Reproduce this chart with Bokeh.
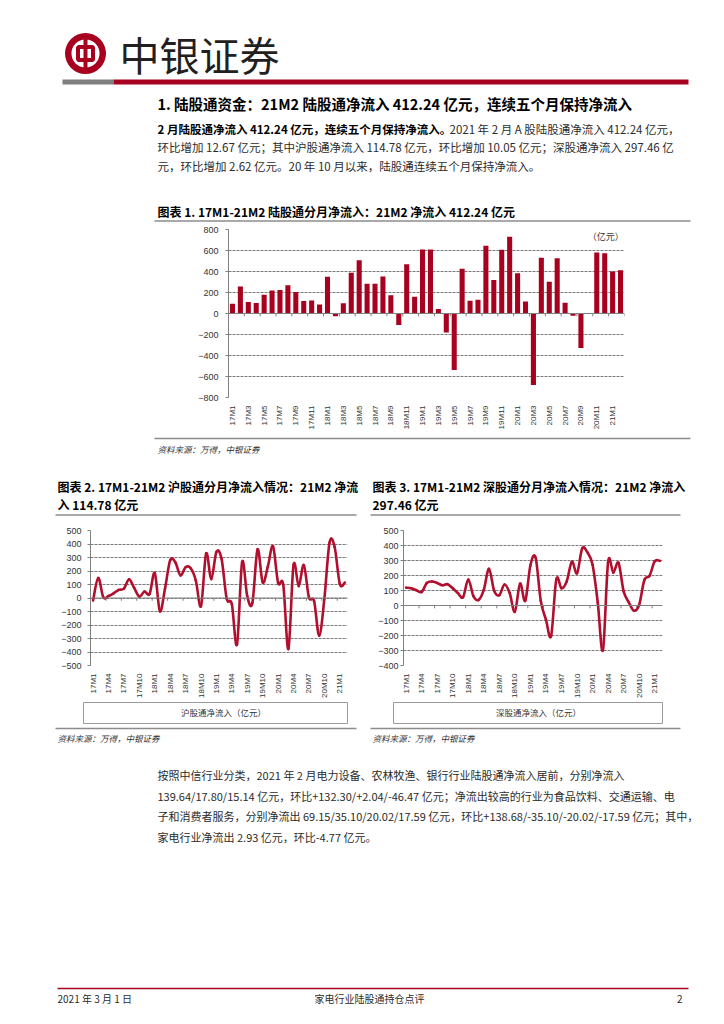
import math
from bokeh.plotting import figure
from bokeh.models import Range1d, FixedTicker, Span, Legend, LegendItem
from bokeh.layouts import column, row
from bokeh.core.properties import value
from bokeh.embed import file_html
from bokeh.resources import INLINE

# ---------------- data ----------------
months = ["17M1", "17M2", "17M3", "17M4", "17M5", "17M6", "17M7", "17M8", "17M9", "17M10", "17M11", "17M12",
          "18M1", "18M2", "18M3", "18M4", "18M5", "18M6", "18M7", "18M8", "18M9", "18M10", "18M11", "18M12",
          "19M1", "19M2", "19M3", "19M4", "19M5", "19M6", "19M7", "19M8", "19M9", "19M10", "19M11", "19M12",
          "20M1", "20M2", "20M3", "20M4", "20M5", "20M6", "20M7", "20M8", "20M9", "20M10", "20M11", "20M12",
          "21M1", "21M2"]

total_flow = [94, 257, 109, 100, 178, 220, 224, 269, 205, 118, 124, 85,
              350, -27, 97, 387, 508, 284, 284, 353, 175, -109, 468, 160,
              610, 610, 42, -181, -538, 426, 121, 130, 646, 320, 607, 731,
              384, 115, -680, 532, 302, 526, 103, -21, -329, 2, 580, 574,
              399.57, 412.24]

sh_flow = [-19, 148, 5, 15, 35, 60, 70, 138, 75, 10, 48, 30,
           185, -98, 70, 280, 265, 168, 228, 220, 128, -60, 330, 140,
           342, 290, -5, -46, -344, 267, 12, -35, 360, 116, 232, 383,
           112, 98, -377, 245, 88, 244, 5, -23, -279, -5, 410, 378,
           104.73, 114.78]

sz_flow = [119, 115, 102, 90, 150, 160, 150, 135, 142, 115, 83, 56,
           173, 62, 37, 104, 244, 98, 69, 140, 83, -42, 146, 31,
           268, 320, 31, -94, -202, 173, 115, 160, 292, 215, 381, 354,
           272, 20, -298, 290, 219, 285, 94, 21, -35, 5, 170, 198,
           294.84, 297.46]

bar_ticks = list(range(0, 50, 2))
line_ticks = list(range(0, 50, 3))

# ---------------- styles ----------------
CJK = "Noto Sans CJK SC"
LAT = "Liberation Sans"
RED = "#A8001F"
LINE_RED = "#B0102E"
GRID = "#7a7a7a"
RULE = "#8c8c8c"
TXT = "#2b2b2b"


def canvas(x0, y0, w, h):
    p = figure(width=w, height=h, x_range=Range1d(x0, x0 + w), y_range=Range1d(y0 + h, y0),
               x_axis_location=None, y_axis_location=None, output_backend="svg",
               toolbar_location=None, min_border=0)
    p.grid.visible = False
    p.outline_line_color = None
    return p


def txt(p, x, y, s, size, style="normal", color=TXT, align="left", font=CJK):
    p.text(x=[x], y=[y], text=[s], text_font=value(font), text_font_size=value(f"{size}px"),
           text_font_style=value(style), text_color=color, text_align=align,
           text_baseline="middle")


def rule(p, xa, xb, y, color=RULE, w=1.3):
    p.segment(x0=[xa], y0=[y], x1=[xb], y1=[y], line_color=color, line_width=w)


def style_axes(p, ticks_y, label_standoff, xticks, label_size="8px"):
    p.outline_line_color = None
    p.xgrid.visible = False
    p.ygrid.ticker = FixedTicker(ticks=ticks_y)
    p.ygrid.grid_line_color = GRID
    p.ygrid.grid_line_dash = "3 1"
    p.ygrid.grid_line_width = 1
    p.yaxis.ticker = FixedTicker(ticks=ticks_y)
    p.yaxis.axis_line_color = "#808080"
    p.yaxis.major_tick_line_color = "#808080"
    p.yaxis.major_tick_out = 3
    p.yaxis.major_tick_in = 0
    p.yaxis.minor_tick_line_color = None
    p.yaxis.major_label_standoff = label_standoff
    p.yaxis.major_label_text_font = LAT
    p.yaxis.major_label_text_font_size = "9px"
    p.yaxis.major_label_text_color = "#333333"
    p.xaxis.ticker = FixedTicker(ticks=xticks)
    p.xaxis.major_label_overrides = {i: months[i] for i in xticks}
    p.xaxis.axis_line_color = None
    p.xaxis.major_tick_line_color = None
    p.xaxis.minor_tick_line_color = None
    p.xaxis.major_label_orientation = math.pi / 2
    p.xaxis.major_label_standoff = 2
    p.xaxis.major_label_text_font = LAT
    p.xaxis.major_label_text_font_size = label_size
    p.xaxis.major_label_text_color = "#333333"


def zero_axis(p, step, ymin, ymax, frame_px):
    p.add_layout(Span(location=0, dimension="width", line_color="#808080", line_width=1))
    xs = [-0.5 + step * k for k in range(len(months) // step + 1)]
    ln = 3 * (ymax - ymin) / frame_px
    p.segment(x0=xs, y0=[0] * len(xs), x1=xs, y1=[-ln] * len(xs),
              line_color="#808080", line_width=1)


def smooth(p, vals, color):
    n = len(vals)
    xs = list(range(n))
    d = dict(x0=[], y0=[], x1=[], y1=[], cx0=[], cy0=[], cx1=[], cy1=[])
    for i in range(n - 1):
        im = max(i - 1, 0)
        ip = min(i + 2, n - 1)
        d["x0"].append(xs[i]); d["y0"].append(vals[i])
        d["x1"].append(xs[i + 1]); d["y1"].append(vals[i + 1])
        d["cx0"].append(xs[i] + (xs[i + 1] - xs[im]) / 6)
        d["cy0"].append(vals[i] + (vals[i + 1] - vals[im]) / 6)
        d["cx1"].append(xs[i + 1] - (xs[ip] - xs[i]) / 6)
        d["cy1"].append(vals[i + 1] - (vals[ip] - vals[i]) / 6)
    p.bezier(line_color=color, line_width=2.6, line_cap="round", **d)


W = 724

# ---------------- top strip (page y 0..222) ----------------
top = canvas(0, 0, W, 222)
top.annulus(x=[85], y=[53], inner_radius=14, outer_radius=20.5, fill_color=RED, line_color=None)
top.rect(x=[85], y=[53], width=15, height=13, fill_color=None, line_color=RED, line_width=4)
top.segment(x0=[85], y0=[34], x1=[85], y1=[72], line_color=RED, line_width=4)
txt(top, 119, 53, "中银证券", 40, color="#231f20")
top.quad(left=[62], right=[113], top=[79], bottom=[84], fill_color="#7f7f7f", line_color=None)
top.quad(left=[113], right=[688], top=[79], bottom=[84], fill_color=RED, line_color=None)

txt(top, 157, 103, "1. 陆股通资金：21M2 陆股通净流入 412.24 亿元，连续五个月保持净流入", 14.5, "bold", "#000000")
txt(top, 157, 128, "2 月陆股通净流入 412.24 亿元，连续五个月保持净流入。", 11.5, "bold", "#000000")
txt(top, 449, 128, "2021 年 2 月 A 股陆股通净流入 412.24 亿元，", 11.5)
txt(top, 157, 146.5, "环比增加 12.67 亿元；其中沪股通净流入 114.78 亿元，环比增加 10.05 亿元；深股通净流入 297.46 亿", 11.5)
txt(top, 157, 165, "元，环比增加 2.62 亿元。20 年 10 月以来，陆股通连续五个月保持净流入。", 11.5)
txt(top, 157, 211, "图表 1. 17M1-21M2 陆股通分月净流入：21M2 净流入 412.24 亿元", 12, "bold", "#000000")
rule(top, 154, 690, 220.5)

# ---------------- chart 1 (page y 222..432) ----------------
p1 = figure(width=W, height=210, x_range=Range1d(-0.5, len(months) - 0.5), y_range=Range1d(-800, 800),
            min_border_left=228, min_border_right=100, min_border_top=7, min_border_bottom=26,
            output_backend="svg", toolbar_location=None)
style_axes(p1, list(range(-800, 801, 200)), 7, bar_ticks)
p1.vbar(x=list(range(len(months))), top=total_flow, width=0.64, fill_color=RED, line_color=None)
zero_axis(p1, 2, -800, 800, 177)
p1.text(x=[len(months) - 0.6], y=[735], text=["（亿元）"], text_font=value(CJK),
        text_font_size=value("9px"), text_color="#333333", text_align="right", text_baseline="middle")

# ---------------- mid strip (page y 432..525) ----------------
mid = canvas(0, 432, W, 93)
rule(mid, 154, 690, 438)
txt(mid, 157, 448, "资料来源：万得，中银证券", 8.5, "italic", "#333333")
txt(mid, 57, 486, "图表 2. 17M1-21M2 沪股通分月净流入情况：21M2 净流", 12, "bold", "#000000")
txt(mid, 57, 504, "入 114.78 亿元", 12, "bold", "#000000")
txt(mid, 372, 486, "图表 3. 17M1-21M2 深股通分月净流入情况：21M2 净流入", 12, "bold", "#000000")
txt(mid, 372, 504, "297.46 亿元", 12, "bold", "#000000")
rule(mid, 55, 356, 514.5)
rule(mid, 370, 680, 514.5)

# ---------------- charts 2 & 3 (page y 525..700) ----------------
p2 = figure(width=362, height=175, x_range=Range1d(-0.5, len(months) - 0.5), y_range=Range1d(-500, 500),
            min_border_left=90, min_border_right=15, min_border_top=5, min_border_bottom=26,
            output_backend="svg", toolbar_location=None)
style_axes(p2, list(range(-500, 501, 100)), 6, line_ticks)
zero_axis(p2, 3, -500, 500, 144)
smooth(p2, sh_flow, LINE_RED)

p3 = figure(width=362, height=175, x_range=Range1d(-0.5, len(months) - 0.5), y_range=Range1d(-400, 500),
            min_border_left=41, min_border_right=62, min_border_top=5, min_border_bottom=26,
            output_backend="svg", toolbar_location=None)
style_axes(p3, list(range(-400, 501, 100)), 2, line_ticks)
zero_axis(p3, 3, -400, 500, 144)
smooth(p3, sz_flow, LINE_RED)

# ---------------- bottom strip (page y 700..1016) ----------------
BOT0, BOTH = 700, 316
bot = canvas(0, BOT0, W, BOTH)
bot.quad(left=[83, 393], right=[347, 662], top=[702, 702], bottom=[723, 723],
         fill_color="white", line_color="#9a9a9a", line_width=1)
d2 = bot.line(x=[], y=[], line_color=LINE_RED, line_width=2.6)
d3 = bot.line(x=[], y=[], line_color=LINE_RED, line_width=2.6)
for rend, lab, lx in ((d2, "沪股通净流入（亿元）", 158), (d3, "深股通净流入（亿元）", 473)):
    lg = Legend(items=[LegendItem(label=lab, renderers=[rend])], location=(lx, BOT0 + BOTH - 718),
                padding=0, margin=0, glyph_width=20, glyph_height=10, label_standoff=3,
                label_text_font=CJK, label_text_font_size="8.5px", label_text_color="#333333",
                background_fill_alpha=0, border_line_color=None, label_height=10)
    bot.add_layout(lg)
rule(bot, 55, 356, 728)
rule(bot, 370, 680, 728)
txt(bot, 57, 737, "资料来源：万得，中银证券", 8.5, "italic", "#333333")
txt(bot, 372, 737, "资料来源：万得，中银证券", 8.5, "italic", "#333333")

txt(bot, 157, 774, "按照中信行业分类，2021 年 2 月电力设备、农林牧渔、银行行业陆股通净流入居前，分别净流入", 11)
txt(bot, 157, 795, "139.64/17.80/15.14 亿元，环比+132.30/+2.04/-46.47 亿元；净流出较高的行业为食品饮料、交通运输、电", 11)
txt(bot, 157, 815.5, "子和消费者服务，分别净流出 69.15/35.10/20.02/17.59 亿元，环比+138.68/-35.10/-20.02/-17.59 亿元；其中，", 11)
txt(bot, 157, 836, "家电行业净流出 2.93 亿元，环比-4.77 亿元。", 11)

rule(bot, 57, 688, 988, RED, 1.5)
txt(bot, 57, 998, "2021 年 3 月 1 日", 10)
txt(bot, 314, 998, "家电行业陆股通持仓点评", 10)
txt(bot, 682, 998, "2", 10, align="right")

page = column(row(top), row(p1), row(mid), row(p2, p3), row(bot))
open("out.html", "w").write(file_html(page, INLINE))
